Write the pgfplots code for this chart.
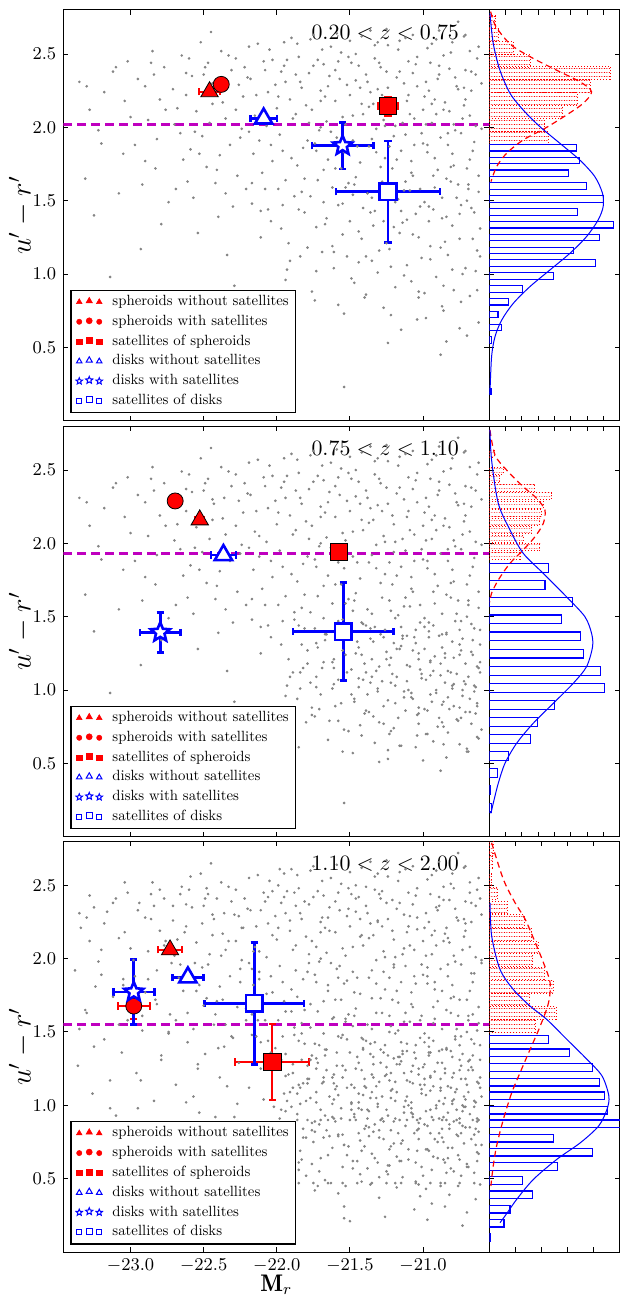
\documentclass[border=0pt]{standalone}
\usepackage{fontspec}
\usepackage{pgfplots}
\usepackage{pgfplotstable}
\pgfplotsset{compat=1.18}
\usetikzlibrary{patterns.meta}
\newfontfamily\lmten{lmroman10-regular}[Extension=.otf]

\definecolor{mred}{rgb}{1,0,0}
\definecolor{mblue}{rgb}{0,0,1}
\definecolor{mmag}{rgb}{0.75,0,0.75}
\definecolor{mgray}{rgb}{0.52,0.52,0.52}

\tikzdeclarepattern{
  name=hdots,
  type=uncolored,
  bounding box={(0pt,0pt) and (2.4pt,2pt)},
  tile size={(2.4pt,2pt)},
  code={
    \draw[line width=0.45pt, dash pattern=on 0.6pt off 0.6pt] (0pt,1pt) -- (2.4pt,1pt);
  }
}

\newdimen\starin
\pgfdeclareplotmark{ostar}{%
  \starin=0.45\pgfplotmarksize
  \pgfpathmoveto{\pgfqpointpolar{90}{\pgfplotmarksize}}%
  \pgfpathlineto{\pgfqpointpolar{126}{\starin}}%
  \pgfpathlineto{\pgfqpointpolar{162}{\pgfplotmarksize}}%
  \pgfpathlineto{\pgfqpointpolar{198}{\starin}}%
  \pgfpathlineto{\pgfqpointpolar{234}{\pgfplotmarksize}}%
  \pgfpathlineto{\pgfqpointpolar{270}{\starin}}%
  \pgfpathlineto{\pgfqpointpolar{306}{\pgfplotmarksize}}%
  \pgfpathlineto{\pgfqpointpolar{342}{\starin}}%
  \pgfpathlineto{\pgfqpointpolar{18}{\pgfplotmarksize}}%
  \pgfpathlineto{\pgfqpointpolar{54}{\starin}}%
  \pgfpathclose
  \pgfusepathqfillstroke
}

% ---------------- gray galaxy clouds ----------------
\pgfplotstableread[row sep=\\]{
x y\\
-23.35 2.31\\ -23.28 2.12\\ -23.22 1.98\\ -23.12 2.38\\ -23.05 1.82\\ -23.31 1.65\\ -23.18 2.24\\ -23.08 1.55\\ -23.02 2.45\\ -23.25 1.40\\ -23.14 0.98\\ -23.04 2.18\\
-22.95 2.33\\ -22.88 2.05\\ -22.82 1.92\\ -22.77 2.41\\ -22.71 2.26\\ -22.64 1.78\\ -22.92 1.61\\ -22.85 2.52\\ -22.68 2.13\\ -22.62 2.37\\ -22.97 1.88\\ -22.74 1.49\\ -22.80 2.19\\ -22.66 1.96\\ -22.90 2.28\\ -22.61 1.63\\ -22.79 1.34\\ -22.86 2.44\\ -22.70 2.02\\ -22.93 1.17\\ -22.65 2.49\\ -22.83 1.72\\
-22.58 2.35\\ -22.55 2.11\\ -22.51 1.94\\ -22.47 2.44\\ -22.43 2.27\\ -22.39 1.81\\ -22.35 2.06\\ -22.31 2.39\\ -22.27 1.67\\ -22.23 2.21\\ -22.57 1.52\\ -22.52 2.58\\ -22.48 1.73\\ -22.44 2.16\\ -22.40 1.39\\ -22.36 2.31\\ -22.32 1.88\\ -22.28 2.47\\ -22.24 1.99\\ -22.21 1.58\\ -22.54 1.28\\ -22.46 2.03\\ -22.38 2.52\\ -22.30 1.46\\ -22.26 2.29\\ -22.50 2.36\\ -22.42 1.62\\ -22.34 1.13\\ -22.22 2.41\\ -22.59 1.85\\ -22.29 0.92\\ -22.45 2.65\\
-22.18 2.33\\ -22.15 2.08\\ -22.12 1.91\\ -22.09 2.45\\ -22.06 2.24\\ -22.03 1.77\\ -22.00 2.13\\ -21.97 2.38\\ -21.94 1.64\\ -21.91 2.19\\ -21.88 1.53\\ -21.85 2.48\\ -21.82 1.86\\ -22.17 1.48\\ -22.13 2.57\\ -22.10 1.69\\ -22.07 2.01\\ -22.04 1.36\\ -22.01 2.29\\ -21.98 1.95\\ -21.95 2.42\\ -21.92 1.21\\ -21.89 2.06\\ -21.86 1.74\\ -21.83 2.27\\ -22.16 1.82\\ -22.11 1.25\\ -22.05 2.53\\ -21.99 1.58\\ -21.93 1.03\\ -21.87 2.36\\ -21.81 1.42\\ -22.14 2.22\\ -22.08 1.58\\ -22.02 0.87\\ -21.96 1.84\\ -21.90 2.61\\ -21.84 1.12\\ -22.19 1.97\\ -21.80 2.15\\ -21.94 2.31\\ -22.06 1.44\\
-21.78 2.37\\ -21.76 2.12\\ -21.74 1.89\\ -21.72 2.46\\ -21.70 2.25\\ -21.68 1.71\\ -21.66 2.04\\ -21.64 2.35\\ -21.62 1.59\\ -21.60 2.18\\ -21.58 1.47\\ -21.56 2.51\\ -21.54 1.83\\ -21.52 2.29\\ -21.50 1.36\\ -21.48 2.08\\ -21.46 1.66\\ -21.44 2.42\\ -21.42 1.24\\ -21.77 1.53\\ -21.75 2.63\\ -21.73 1.32\\ -21.71 1.98\\ -21.69 1.15\\ -21.67 2.21\\ -21.65 1.78\\ -21.63 2.55\\ -21.61 1.04\\ -21.59 1.93\\ -21.57 2.33\\ -21.55 1.27\\ -21.53 2.02\\ -21.51 1.62\\ -21.49 2.44\\ -21.47 0.94\\ -21.45 1.87\\ -21.43 2.27\\ -21.41 1.45\\ -21.79 1.91\\ -21.74 0.82\\ -21.68 2.43\\ -21.62 1.19\\ -21.56 1.72\\ -21.50 2.59\\ -21.44 1.08\\ -21.72 1.64\\ -21.66 1.38\\ -21.60 2.39\\ -21.54 0.73\\ -21.48 1.54\\ -21.42 2.16\\ -21.70 2.00\\ -21.58 1.87\\ -21.46 2.32\\ -21.52 1.12\\ -21.54 0.23\\
-21.39 2.36\\ -21.37 2.14\\ -21.35 1.92\\ -21.33 2.47\\ -21.31 2.26\\ -21.29 1.73\\ -21.27 2.05\\ -21.25 2.38\\ -21.23 1.61\\ -21.21 2.19\\ -21.19 1.49\\ -21.17 2.53\\ -21.15 1.84\\ -21.13 2.30\\ -21.11 1.37\\ -21.09 2.09\\ -21.07 1.67\\ -21.05 2.43\\ -21.03 1.25\\ -21.01 1.96\\ -21.38 1.55\\ -21.36 2.66\\ -21.34 1.33\\ -21.32 1.99\\ -21.30 1.16\\ -21.28 2.22\\ -21.26 1.79\\ -21.24 2.56\\ -21.22 1.05\\ -21.20 1.94\\ -21.18 2.34\\ -21.16 1.28\\ -21.14 2.03\\ -21.12 1.63\\ -21.10 2.45\\ -21.08 0.95\\ -21.06 1.88\\ -21.04 2.28\\ -21.02 1.46\\ -21.00 2.12\\ -21.39 0.86\\ -21.33 1.43\\ -21.27 0.77\\ -21.21 1.72\\ -21.15 0.62\\ -21.09 1.57\\ -21.03 0.88\\ -21.37 1.87\\ -21.31 2.58\\ -21.25 1.21\\ -21.19 2.01\\ -21.13 0.99\\ -21.07 2.37\\ -21.01 1.11\\ -21.35 1.09\\ -21.29 2.41\\ -21.23 1.87\\ -21.17 1.51\\ -21.11 2.18\\ -21.05 1.41\\ -21.36 2.24\\ -21.24 0.53\\ -21.12 2.61\\ -21.20 1.32\\ -21.08 1.77\\
-20.99 2.21\\ -20.97 1.83\\ -20.95 2.44\\ -20.93 1.67\\ -20.91 2.09\\ -20.89 2.36\\ -20.87 1.52\\ -20.85 2.17\\ -20.83 1.96\\ -20.81 2.51\\ -20.79 1.74\\ -20.77 2.28\\ -20.75 1.41\\ -20.73 2.06\\ -20.71 2.39\\ -20.69 1.61\\ -20.67 2.25\\ -20.65 1.90\\ -20.63 2.47\\ -20.61 1.31\\
-20.98 2.02\\ -20.96 1.36\\ -20.94 2.57\\ -20.92 1.79\\ -20.90 2.33\\ -20.88 1.18\\ -20.86 2.12\\ -20.84 1.65\\ -20.82 2.40\\ -20.80 1.03\\ -20.78 1.98\\ -20.76 2.26\\ -20.74 1.47\\ -20.72 2.15\\ -20.70 1.72\\ -20.68 2.52\\ -20.66 1.24\\ -20.64 2.01\\ -20.62 1.56\\ -20.60 2.30\\
-20.99 0.87\\ -20.93 1.44\\ -20.87 0.78\\ -20.81 1.73\\ -20.75 0.63\\ -20.69 1.58\\ -20.63 0.89\\ -20.97 1.88\\ -20.91 2.60\\ -20.85 1.22\\ -20.79 2.02\\ -20.73 1.00\\ -20.67 2.38\\ -20.61 1.12\\ -20.95 1.10\\ -20.89 2.42\\ -20.83 1.88\\ -20.77 1.52\\ -20.71 2.19\\ -20.65 1.42\\ -20.96 2.25\\ -20.84 0.54\\ -20.72 2.62\\ -20.80 1.33\\ -20.68 1.78\\ -20.98 0.70\\ -20.86 0.92\\ -20.74 0.81\\ -20.62 0.67\\ -20.92 1.59\\ -20.76 2.72\\ -20.64 1.02\\ -20.88 0.45\\ -20.70 0.58\\ -20.94 2.16\\
}\cloudA

\pgfplotstableread[row sep=\\]{
x y\\
-21.89 1.12\\ -21.86 0.94\\ -21.83 1.31\\ -21.80 0.78\\ -21.77 1.05\\ -21.74 1.42\\ -21.71 0.87\\ -21.68 1.19\\ -21.65 0.66\\ -21.62 1.01\\ -21.59 1.36\\ -21.56 0.91\\ -21.53 1.24\\ -21.51 0.72\\ -21.88 1.48\\ -21.85 0.61\\ -21.82 1.15\\ -21.79 1.27\\ -21.76 0.83\\ -21.73 1.09\\ -21.70 0.97\\ -21.67 1.38\\ -21.64 0.79\\ -21.61 1.21\\ -21.58 1.07\\ -21.55 0.58\\ -21.52 1.45\\ -21.84 1.01\\ -21.72 1.29\\ -21.60 0.89\\
-21.49 1.14\\ -21.47 0.92\\ -21.45 1.33\\ -21.43 0.76\\ -21.41 1.07\\ -21.39 1.44\\ -21.37 0.85\\ -21.35 1.21\\ -21.33 0.64\\ -21.31 0.99\\ -21.29 1.38\\ -21.27 0.89\\ -21.25 1.26\\ -21.23 0.70\\ -21.21 1.11\\ -21.19 1.03\\ -21.17 0.81\\ -21.15 1.30\\ -21.13 0.95\\ -21.11 1.17\\ -21.48 0.57\\ -21.46 1.25\\ -21.44 1.02\\ -21.42 0.69\\ -21.40 1.18\\ -21.38 0.97\\ -21.36 1.35\\ -21.34 0.82\\ -21.32 1.13\\ -21.30 0.51\\ -21.28 1.06\\ -21.26 1.41\\ -21.24 0.93\\ -21.22 1.22\\ -21.20 0.74\\ -21.18 1.09\\ -21.16 0.62\\ -21.14 1.37\\ -21.12 0.86\\ -21.10 1.00\\ -21.42 1.46\\ -21.30 0.78\\ -21.18 1.28\\ -21.36 1.05\\ -21.24 0.59\\
-21.09 1.16\\ -21.07 0.94\\ -21.05 1.32\\ -21.03 0.77\\ -21.01 1.08\\ -20.99 1.43\\ -20.97 0.86\\ -20.95 1.20\\ -20.93 0.65\\ -20.91 1.00\\ -20.89 1.37\\ -20.87 0.90\\ -20.85 1.25\\ -20.83 0.71\\ -20.81 1.12\\ -20.79 1.04\\ -20.77 0.80\\ -20.75 1.31\\ -20.73 0.96\\ -20.71 1.18\\ -20.69 0.58\\ -20.67 1.26\\ -20.65 1.03\\ -20.63 0.68\\ -20.61 1.19\\ -21.08 0.98\\ -21.06 1.36\\ -21.04 0.83\\ -21.02 1.14\\ -21.00 0.52\\ -20.98 1.07\\ -20.96 1.40\\ -20.94 0.92\\ -20.92 1.23\\ -20.90 0.75\\ -20.88 1.10\\ -20.86 0.63\\ -20.84 1.38\\ -20.82 0.87\\ -20.80 1.01\\ -20.78 1.47\\ -20.76 0.79\\ -20.74 1.27\\ -20.72 1.06\\ -20.70 0.60\\ -20.68 0.94\\ -20.66 1.34\\ -20.64 0.84\\ -20.62 1.15\\ -20.60 0.73\\ -21.05 0.61\\ -20.95 0.97\\ -20.85 1.05\\ -20.75 0.88\\ -20.65 0.99\\ -20.99 1.28\\ -20.89 0.81\\ -20.79 1.22\\ -20.69 1.09\\ -21.03 1.21\\ -20.93 1.13\\ -20.83 0.95\\ -20.73 1.35\\ -20.63 0.91\\ -20.97 0.70\\ -20.87 1.29\\ -20.77 1.11\\ -20.67 0.77\\ -20.61 1.41\\ -20.71 0.85\\
}\cloudB

\pgfplotstableread[row sep=\\]{
x y\\
-23.38 1.92\\ -23.36 1.27\\ -23.34 2.21\\ -23.32 0.84\\ -23.30 1.63\\ -23.28 2.43\\ -23.26 1.08\\ -23.24 1.81\\ -23.22 0.69\\ -23.20 2.06\\ -23.18 1.45\\ -23.16 2.32\\ -23.14 1.17\\ -23.12 1.74\\ -23.10 0.93\\ -23.08 2.14\\ -23.06 1.36\\ -23.04 2.52\\ -23.02 1.58\\ -23.00 0.77\\ -22.98 1.99\\ -22.96 1.22\\ -22.94 2.38\\ -22.92 1.51\\ -22.90 0.61\\ -22.88 1.86\\ -22.86 2.27\\ -22.84 1.03\\ -22.82 1.69\\ -22.80 2.47\\ -23.35 1.52\\ -23.25 2.35\\ -23.15 0.52\\ -23.05 1.86\\ -22.95 0.98\\
-22.79 1.31\\ -22.77 2.09\\ -22.75 0.88\\ -22.73 1.62\\ -22.71 2.36\\ -22.69 1.14\\ -22.67 1.87\\ -22.65 0.72\\ -22.63 2.18\\ -22.61 1.43\\ -22.59 2.56\\ -22.57 1.06\\ -22.55 1.78\\ -22.53 0.95\\ -22.51 2.24\\ -22.49 1.35\\ -22.47 1.96\\ -22.45 0.66\\ -22.43 1.55\\ -22.41 2.41\\ -22.39 1.19\\ -22.37 1.72\\ -22.35 0.83\\ -22.33 2.12\\ -22.31 1.47\\ -22.29 2.30\\ -22.27 1.01\\ -22.25 1.84\\ -22.23 0.58\\ -22.21 1.66\\ -22.78 0.49\\ -22.72 1.97\\ -22.66 2.44\\ -22.60 0.81\\ -22.54 1.25\\ -22.48 2.48\\ -22.42 0.92\\ -22.36 1.40\\ -22.30 0.71\\ -22.24 2.21\\ -22.74 1.50\\ -22.62 1.02\\ -22.50 1.68\\ -22.38 2.02\\ -22.26 1.29\\
-22.19 1.12\\ -22.17 1.93\\ -22.15 0.79\\ -22.13 1.58\\ -22.11 2.33\\ -22.09 1.04\\ -22.07 1.76\\ -22.05 0.63\\ -22.03 2.16\\ -22.01 1.39\\ -21.99 2.50\\ -21.97 0.97\\ -21.95 1.71\\ -21.93 0.86\\ -21.91 2.26\\ -21.89 1.28\\ -21.87 1.92\\ -21.85 0.56\\ -21.83 1.49\\ -21.81 2.39\\ -21.79 1.15\\ -21.77 1.69\\ -21.75 0.75\\ -21.73 2.08\\ -21.71 1.41\\ -21.69 2.28\\ -21.67 0.93\\ -21.65 1.82\\ -21.63 0.47\\ -21.61 1.60\\ -22.18 0.41\\ -22.12 1.86\\ -22.06 2.42\\ -22.00 0.73\\ -21.94 1.20\\ -21.88 2.45\\ -21.82 0.84\\ -21.76 1.34\\ -21.70 0.64\\ -21.64 2.19\\ -22.14 1.47\\ -22.02 0.99\\ -21.90 1.64\\ -21.78 1.97\\ -21.66 1.24\\ -22.16 2.05\\ -22.04 0.88\\ -21.92 0.35\\ -21.80 0.52\\ -21.68 0.78\\ -22.10 0.55\\ -21.98 2.61\\ -21.86 1.08\\ -21.74 0.42\\ -21.62 0.92\\
-21.59 1.13\\ -21.57 1.95\\ -21.55 0.80\\ -21.53 1.57\\ -21.51 2.34\\ -21.49 1.02\\ -21.47 1.77\\ -21.45 0.62\\ -21.43 2.15\\ -21.41 1.38\\ -21.39 2.49\\ -21.37 0.96\\ -21.35 1.73\\ -21.33 0.87\\ -21.31 2.25\\ -21.29 1.29\\ -21.27 1.91\\ -21.25 0.55\\ -21.23 1.50\\ -21.21 2.40\\ -21.19 1.16\\ -21.17 1.70\\ -21.15 0.74\\ -21.13 2.07\\ -21.11 1.42\\ -21.09 2.29\\ -21.07 0.92\\ -21.05 1.83\\ -21.03 0.46\\ -21.01 1.61\\ -21.58 0.40\\ -21.52 1.85\\ -21.46 2.41\\ -21.40 0.72\\ -21.34 1.19\\ -21.28 2.46\\ -21.22 0.83\\ -21.16 1.33\\ -21.10 0.63\\ -21.04 2.20\\ -21.56 1.46\\ -21.44 0.98\\ -21.32 1.63\\ -21.20 1.96\\ -21.08 1.23\\ -21.54 0.31\\ -21.42 0.48\\ -21.30 0.37\\ -21.18 0.44\\ -21.06 0.29\\ -21.50 0.21\\ -21.38 0.57\\ -21.26 0.24\\ -21.14 0.51\\ -21.02 0.38\\
-20.99 1.14\\ -20.97 1.94\\ -20.95 0.81\\ -20.93 1.56\\ -20.91 2.35\\ -20.89 1.03\\ -20.87 1.78\\ -20.85 0.61\\ -20.83 2.14\\ -20.81 1.37\\ -20.79 2.48\\ -20.77 0.97\\ -20.75 1.72\\ -20.73 0.86\\ -20.71 2.24\\ -20.69 1.30\\ -20.67 1.90\\ -20.65 0.54\\ -20.63 1.51\\ -20.61 2.41\\ -20.98 0.43\\ -20.92 1.84\\ -20.86 2.40\\ -20.80 0.71\\ -20.74 1.18\\ -20.68 2.45\\ -20.62 0.82\\ -20.96 1.34\\ -20.90 0.64\\ -20.84 2.21\\ -20.78 1.45\\ -20.72 0.99\\ -20.66 1.62\\ -20.60 1.97\\ -20.94 0.33\\ -20.88 0.47\\ -20.82 0.39\\ -20.76 0.45\\ -20.70 0.27\\ -20.64 0.36\\ -20.97 0.22\\ -20.85 0.31\\ -20.73 0.18\\ -20.61 0.46\\ -20.79 0.55\\
}\cloudC

\pgfplotstableread[row sep=\\]{
x y\\
-21.98 0.91\\ -21.95 1.08\\ -21.92 0.74\\ -21.89 1.22\\ -21.86 0.90\\ -21.83 0.63\\ -21.80 1.03\\ -21.77 1.31\\ -21.74 0.89\\ -21.71 0.55\\ -21.68 1.16\\ -21.65 0.90\\ -21.62 0.71\\ -21.59 1.27\\ -21.56 0.98\\ -21.53 0.45\\ -21.50 0.90\\ -21.47 1.12\\ -21.44 0.81\\ -21.41 1.39\\ -21.38 0.91\\ -21.35 0.67\\ -21.32 1.05\\ -21.29 0.90\\ -21.26 1.20\\ -21.23 0.59\\ -21.20 0.89\\ -21.17 1.33\\ -21.14 0.76\\ -21.11 0.90\\ -21.08 1.02\\ -21.05 0.48\\ -21.02 0.91\\ -20.99 1.18\\ -20.96 0.69\\ -20.93 0.90\\ -20.90 1.29\\ -20.87 0.84\\ -20.84 0.90\\ -20.81 0.57\\ -20.78 1.09\\ -20.75 0.91\\ -20.72 0.74\\ -20.69 1.24\\ -20.66 0.90\\ -20.63 0.62\\ -20.60 1.06\\
-21.97 0.52\\ -21.94 1.35\\ -21.91 0.86\\ -21.88 0.47\\ -21.85 1.14\\ -21.82 0.78\\ -21.79 0.90\\ -21.76 0.60\\ -21.73 1.25\\ -21.70 0.90\\ -21.67 0.49\\ -21.64 1.06\\ -21.61 0.91\\ -21.58 0.80\\ -21.55 1.19\\ -21.52 0.66\\ -21.49 1.01\\ -21.46 0.90\\ -21.43 0.53\\ -21.40 1.13\\ -21.37 0.79\\ -21.34 1.28\\ -21.31 0.61\\ -21.28 0.91\\ -21.25 0.97\\ -21.22 1.10\\ -21.19 0.47\\ -21.16 0.90\\ -21.13 1.22\\ -21.10 0.70\\ -21.07 1.15\\ -21.04 0.90\\ -21.01 0.58\\ -20.98 0.96\\ -20.95 1.36\\ -20.92 0.77\\ -20.89 0.91\\ -20.86 1.01\\ -20.83 0.64\\ -20.80 1.19\\ -20.77 0.90\\ -20.74 0.52\\ -20.71 0.99\\ -20.68 1.31\\ -20.65 0.80\\ -20.62 0.90\\
-21.90 0.99\\ -21.84 0.69\\ -21.78 1.18\\ -21.72 0.45\\ -21.66 0.83\\ -21.60 1.11\\ -21.54 0.73\\ -21.48 0.62\\ -21.42 0.97\\ -21.36 0.46\\ -21.30 0.83\\ -21.24 1.34\\ -21.18 0.65\\ -21.12 1.03\\ -21.06 0.81\\ -21.00 1.26\\ -20.94 0.56\\ -20.88 1.12\\ -20.82 0.84\\ -20.76 0.66\\ -20.70 1.14\\ -20.64 0.73\\
-21.85 0.47\\ -21.75 0.47\\ -21.65 0.47\\ -21.55 0.47\\ -21.45 0.47\\ -21.35 0.47\\ -21.25 0.47\\ -21.15 0.47\\ -21.05 0.47\\ -20.95 0.47\\ -20.85 0.47\\ -20.75 0.47\\ -20.65 0.47\\
}\cloudD

\pgfplotstableread[row sep=\\]{
x y\\
-22.62 2.22\\ -22.56 1.97\\ -22.49 2.41\\ -22.41 1.71\\ -22.37 2.17\\ -22.33 2.49\\ -22.25 1.93\\ -22.20 2.34\\ -22.17 1.62\\ -22.12 2.05\\ -22.08 2.39\\ -22.04 1.88\\ -21.99 2.21\\ -21.96 1.47\\ -21.93 2.46\\ -21.90 1.79\\ -21.87 2.09\\ -21.84 2.31\\ -21.81 1.65\\ -21.78 2.03\\ -21.75 2.42\\ -21.73 1.84\\ -21.70 2.18\\ -21.68 1.49\\ -21.65 2.28\\ -21.63 1.97\\ -21.60 1.72\\ -21.58 2.45\\ -21.55 2.07\\ -21.53 1.59\\ -21.50 2.22\\ -21.48 1.91\\ -21.46 2.50\\ -21.43 1.76\\ -21.41 2.09\\ -21.38 2.31\\ -21.36 1.42\\ -21.34 2.16\\ -21.32 1.83\\ -21.30 2.44\\ -21.28 1.63\\ -21.26 2.01\\ -21.24 2.27\\ -21.22 1.54\\ -21.20 2.13\\ -21.18 1.78\\ -21.16 2.38\\ -21.14 1.35\\ -21.12 1.95\\ -21.10 2.22\\ -21.08 1.69\\ -21.06 2.06\\ -21.04 2.48\\ -21.02 1.58\\ -21.00 1.89\\ -20.98 2.31\\ -20.96 1.46\\ -20.94 2.03\\ -20.92 2.19\\ -20.90 1.71\\ -20.88 1.93\\ -20.86 2.49\\ -20.84 1.39\\ -20.82 2.11\\ -20.80 1.82\\ -20.78 2.34\\ -20.76 1.61\\ -20.74 1.96\\ -20.72 2.27\\ -20.70 1.50\\ -20.68 2.08\\ -20.66 1.84\\ -20.64 2.36\\ -20.62 1.67\\ -20.60 1.99\\
-21.97 1.31\\ -21.91 1.09\\ -21.85 1.44\\ -21.79 1.18\\ -21.73 1.02\\ -21.67 1.34\\ -21.61 1.15\\ -21.55 1.48\\ -21.49 0.97\\ -21.44 1.29\\ -21.39 1.12\\ -21.35 1.52\\ -21.31 1.01\\ -21.27 1.36\\ -21.23 1.17\\ -21.19 0.91\\ -21.15 1.43\\ -21.11 1.06\\ -21.07 1.27\\ -21.03 0.84\\ -20.99 1.49\\ -20.95 1.19\\ -20.91 0.98\\ -20.87 1.38\\ -20.83 1.13\\ -20.79 0.89\\ -20.75 1.24\\ -20.71 1.04\\ -20.67 1.45\\ -20.63 1.16\\ -21.94 0.96\\ -21.76 0.88\\ -21.58 0.79\\ -21.40 0.84\\ -21.22 0.72\\ -21.04 0.69\\ -20.86 0.75\\ -20.68 0.85\\ -21.83 1.56\\ -21.47 1.61\\ -21.13 1.57\\ -20.81 1.63\\
-23.30 2.28\\ -23.20 1.89\\ -23.10 2.41\\ -23.00 2.07\\ -22.90 1.77\\ -22.84 2.36\\ -22.76 2.12\\ -22.69 1.58\\ -22.60 2.47\\ -22.53 1.82\\ -22.44 2.30\\ -22.35 1.55\\ -22.28 2.12\\ -22.19 2.55\\ -22.11 1.43\\ -22.03 2.46\\ -21.95 2.58\\ -21.86 2.57\\ -21.77 2.60\\ -21.69 2.53\\ -21.59 2.64\\ -21.51 2.48\\ -21.42 2.62\\ -21.33 2.56\\ -21.25 2.67\\ -21.16 2.59\\ -21.07 2.63\\ -20.97 2.54\\ -20.89 2.66\\ -20.80 2.58\\ -20.71 2.63\\ -20.62 2.55\\
}\cloudE

% ---------------- styles ----------------
\pgfplotsset{
  scat/.style={
    scale only axis, width=213pt, height=205.35pt,
    xmin=-23.46, xmax=-20.547, ymin=0, ymax=2.8,
    xtick={-23,-22.5,-22,-21.5,-21},
    ytick={0.5,1,1.5,2,2.5},
    tick align=inside, major tick length=2.5pt,
    axis line style={line width=0.5pt},
    every tick/.style={black, line width=0.5pt},
    tick label style={font=\fontsize{9}{10}\selectfont},
    yticklabel style={/pgf/number format/.cd, fixed, fixed zerofill, precision=1},
    xticklabel style={/pgf/number format/.cd, fixed, fixed zerofill, precision=1},
    ylabel={$u'-r'$},
    ylabel style={font=\fontsize{14.4}{16}\selectfont, at={(axis description cs:-0.0993,0.5)}, anchor=center},
    legend style={at={(0.0167,0.0178)}, anchor=south west, draw=black, line width=0.6pt, fill=white,
      font=\lmten\fontsize{7.4}{8.5}\selectfont, inner xsep=2.5pt, inner ysep=1.5pt, row sep=1.1pt,
      nodes={inner sep=1pt, text height=5.2pt, text depth=1.6pt},
      /tikz/every odd column/.append style={column sep=4pt}},
    legend cell align=left,
  },
  hist/.style={
    scale only axis, width=65.25pt, height=205.35pt,
    xmin=0, ymin=0, ymax=2.8,
    ytick={0.5,1,1.5,2,2.5}, yticklabels={}, xticklabels={},
    tick align=inside, major tick length=2.5pt,
    axis line style={line width=0.5pt},
    every tick/.style={black, line width=0.5pt},
  },
  cloud/.style={only marks, mark=*, mark size=0.45pt, color=mgray, mark options={draw=none, fill=mgray}, forget plot},
  cut/.style={mmag, line width=1.3pt, dash pattern=on 4.5pt off 2.5pt, forget plot},
  bbar/.style={xbar, draw=mblue, fill=none, line width=0.6pt, forget plot},
  rbar/.style={xbar, draw=mred, densely dotted, line width=0.5pt, pattern=hdots, pattern color=mred, forget plot},
  bcurve/.style={mblue, line width=0.5pt, smooth, tension=0.5, forget plot},
  rcurve/.style={mred, line width=0.6pt, dash pattern=on 3pt off 2pt, smooth, tension=0.5, forget plot},
  rtri/.style={only marks, mark=triangle*, mark size=5pt, mark options={fill=mred, draw=black, line width=0.4pt},
    legend image code/.code={
      \draw plot[only marks, mark=triangle*, mark size=1.6pt, mark options={fill=mred, draw=mred, line width=0.3pt, solid}] coordinates {(0pt,0pt) (10pt,0pt)};
      \draw plot[only marks, mark=triangle*, mark size=1.8pt, mark options={fill=mred, draw=mred, line width=0.3pt, solid}] coordinates {(5pt,0.5pt)};}},
  rcirc/.style={only marks, mark=*, mark size=4pt, mark options={fill=mred, draw=black, line width=0.4pt},
    legend image code/.code={
      \draw plot[only marks, mark=*, mark size=1.3pt, mark options={fill=mred, draw=mred, line width=0.3pt, solid}] coordinates {(0pt,0pt) (10pt,0pt)};
      \draw plot[only marks, mark=*, mark size=1.5pt, mark options={fill=mred, draw=mred, line width=0.3pt, solid}] coordinates {(5pt,0.5pt)};}},
  rsq/.style={only marks, mark=square*, mark size=4.3pt, mark options={fill=mred, draw=black, line width=0.4pt},
    legend image code/.code={
      \draw plot[only marks, mark=square*, mark size=1.3pt, mark options={fill=mred, draw=mred, line width=0.3pt, solid}] coordinates {(0pt,0pt) (10pt,0pt)};
      \draw plot[only marks, mark=square*, mark size=1.5pt, mark options={fill=mred, draw=mred, line width=0.3pt, solid}] coordinates {(5pt,0.5pt)};}},
  btri/.style={only marks, mark=triangle*, mark size=5pt, mark options={fill=white, draw=mblue, line width=1.3pt},
    legend image code/.code={
      \draw plot[only marks, mark=triangle*, mark size=1.6pt, mark options={fill=white, draw=mblue, line width=0.5pt, solid}] coordinates {(0pt,0pt) (10pt,0pt)};
      \draw plot[only marks, mark=triangle*, mark size=1.8pt, mark options={fill=white, draw=mblue, line width=0.5pt, solid}] coordinates {(5pt,0.5pt)};}},
  bstar/.style={only marks, mark=ostar, mark size=5pt, mark options={fill=white, draw=mblue, line width=1.3pt},
    legend image code/.code={
      \draw plot[only marks, mark=ostar, mark size=1.7pt, mark options={fill=white, draw=mblue, line width=0.5pt, solid}] coordinates {(0pt,0pt) (10pt,0pt)};
      \draw plot[only marks, mark=ostar, mark size=1.9pt, mark options={fill=white, draw=mblue, line width=0.5pt, solid}] coordinates {(5pt,0.5pt)};}},
  bsq/.style={only marks, mark=square*, mark size=4.2pt, mark options={fill=white, draw=mblue, line width=1.3pt},
    legend image code/.code={
      \draw plot[only marks, mark=square*, mark size=1.3pt, mark options={fill=white, draw=mblue, line width=0.5pt, solid}] coordinates {(0pt,0pt) (10pt,0pt)};
      \draw plot[only marks, mark=square*, mark size=1.5pt, mark options={fill=white, draw=mblue, line width=0.5pt, solid}] coordinates {(5pt,0.5pt)};}},
  ebr/.style={error bars/.cd, x dir=both, x explicit, y dir=both, y explicit,
    error bar style={mred, line width=1pt, solid}, error mark options={rotate=90, mred, mark size=1.8pt, line width=1pt}},
  ebb/.style={error bars/.cd, x dir=both, x explicit, y dir=both, y explicit,
    error bar style={mblue, line width=1.3pt, solid}, error mark options={rotate=90, mblue, mark size=1.8pt, line width=1.3pt}},
}

\begin{document}
\begin{tikzpicture}

% ================= TOP: 0.20 < z < 0.75 =================
\begin{axis}[scat, at={(0pt,415.65pt)}, anchor=south west, xticklabels={}]
\addplot[cloud] table[x=x,y=y] {\cloudA};
\addplot[cloud] table[x=x,y=y] {\cloudE};
\addplot[cut] coordinates {(-23.46,2.02) (-20.547,2.02)};
\addplot[rtri, ebr] coordinates {(-22.46,2.243) +- (0.07,0.02)};
\addlegendentry{spheroids without satellites}
\addplot[rcirc, ebr] coordinates {(-22.38,2.293) +- (0.0,0.0)};
\addlegendentry{spheroids with satellites}
\addplot[rsq, ebr] coordinates {(-21.24,2.145) +- (0.07,0.065)};
\addlegendentry{satellites of spheroids}
\addplot[btri, ebb] coordinates {(-22.09,2.06) +- (0.09,0.0)};
\addlegendentry{disks without satellites}
\addplot[bstar, ebb] coordinates {(-21.55,1.875) +- (0.21,0.158)};
\addlegendentry{disks with satellites}
\addplot[bsq, ebb] coordinates {(-21.24,1.561) +- (0.355,0.345)};
\addlegendentry{satellites of disks}
\node[anchor=east, font=\fontsize{10.9}{12}\selectfont, xshift=-11.65pt, yshift=-11.5pt] at (rel axis cs:1,1) {$0.20<z<0.75$};
\end{axis}

\begin{axis}[hist, at={(213pt,415.65pt)}, anchor=south west, xmax=8, xtick={0,1,...,8}]
\addplot[rbar, bar width=0.0875] coordinates {(3.6,1.930) (3.4,2.018) (4.5,2.105) (5.4,2.193) (6.2,2.280) (7.4,2.368) (2.5,2.455) (1.5,2.543) (0.55,2.630) (0.35,2.718)};
\addplot[bbar, bar width=0.045] coordinates {(5.33,1.861) (5.51,1.774) (4.86,1.686) (5.96,1.599) (6.98,1.511) (5.41,1.424) (7.59,1.336) (6.78,1.249) (5.18,1.161) (6.51,1.074) (3.92,0.986) (2.04,0.899) (1.20,0.811) (0.53,0.724) (0.73,0.636) (0.14,0.549) (0.10,0.199)};
\addplot[rcurve] coordinates {(0.08,2.789) (0.35,2.698) (0.86,2.618) (1.47,2.55) (2.69,2.47) (4.12,2.39) (5.55,2.311) (6.27,2.243) (5.76,2.164) (4.73,2.084) (3.41,1.993) (2.08,1.914) (1.06,1.823) (0.45,1.732) (0.1,1.63)};
\addplot[bcurve] coordinates {(0.04,2.777) (0.24,2.573) (0.65,2.39) (1.27,2.232) (2.08,2.118) (3.1,2.005) (4.33,1.891) (5.55,1.777) (6.47,1.664) (6.94,1.55) (6.98,1.459) (6.67,1.368) (5.96,1.255) (4.94,1.141) (3.71,1.027) (2.49,0.914) (1.47,0.8) (0.76,0.686) (0.35,0.573) (0.14,0.436) (0.04,0.186)};
\end{axis}

% ================= MIDDLE: 0.75 < z < 1.10 =================
\begin{axis}[scat, at={(0pt,207.65pt)}, anchor=south west, xticklabels={}]
\addplot[cloud] table[x=x,y=y] {\cloudA};
\addplot[cloud] table[x=x,y=y] {\cloudB};
\addplot[cloud] table[x=x,y=y] {\cloudE};
\addplot[cut] coordinates {(-23.46,1.932) (-20.547,1.932)};
\addplot[rtri, ebr] coordinates {(-22.527,2.16) +- (0.03,0.02)};
\addlegendentry{spheroids without satellites}
\addplot[rcirc, ebr] coordinates {(-22.695,2.289) +- (0.0,0.0)};
\addlegendentry{spheroids with satellites}
\addplot[rsq, ebr] coordinates {(-21.573,1.943) +- (0.03,0.03)};
\addlegendentry{satellites of spheroids}
\addplot[btri, ebb] coordinates {(-22.365,1.92) +- (0.085,0.0)};
\addlegendentry{disks without satellites}
\addplot[bstar, ebb] coordinates {(-22.797,1.393) +- (0.138,0.136)};
\addlegendentry{disks with satellites}
\addplot[bsq, ebb] coordinates {(-21.546,1.398) +- (0.343,0.335)};
\addlegendentry{satellites of disks}
\node[anchor=east, font=\fontsize{10.9}{12}\selectfont, xshift=-11.65pt, yshift=-11.5pt] at (rel axis cs:1,1) {$0.75<z<1.10$};
\end{axis}

\begin{axis}[hist, at={(213pt,207.65pt)}, anchor=south west, xmax=8, xtick={0,1,...,8}]
\addplot[rbar, bar width=0.05] coordinates {(1.9,1.915) (3.1,1.973) (2.1,2.031) (2.6,2.089) (3.1,2.147) (3.2,2.205) (3.3,2.263) (3.8,2.321) (2.8,2.379) (0.65,2.437) (0.86,2.495) (0.3,2.611)};
\addplot[bbar, bar width=0.06] coordinates {(3.61,1.833) (3.41,1.716) (5.08,1.599) (4.45,1.482) (5.59,1.366) (5.78,1.248) (6.80,1.130) (7.04,1.014) (4.02,0.898) (2.94,0.783) (2.53,0.665) (1.16,0.550) (0.49,0.436) (0.08,0.315) (0.14,0.199)};
\addplot[rcurve] coordinates {(0.04,2.773) (0.35,2.602) (1.06,2.5) (2.08,2.386) (2.9,2.307) (3.41,2.227) (3.31,2.136) (2.8,2.045) (2.08,1.955) (1.27,1.864) (0.55,1.75) (0.14,1.66) (0.04,1.6)};
\addplot[bcurve] coordinates {(0.04,2.773) (0.14,2.568) (0.55,2.273) (1.27,2.091) (2.08,1.932) (3.31,1.795) (4.73,1.636) (5.86,1.5) (6.27,1.386) (6.33,1.295) (5.96,1.159) (5.14,1.045) (3.92,0.909) (2.69,0.773) (1.67,0.636) (0.96,0.5) (0.55,0.364) (0.24,0.227) (0.1,0.159)};
\end{axis}

% ================= BOTTOM: 1.10 < z < 2.00 =================
\begin{axis}[scat, at={(0pt,0pt)}, anchor=south west,
  xlabel={$\mathbf{M}_r$},
  xlabel style={font=\fontsize{12}{14}\selectfont, at={(axis description cs:0.5,-0.0795)}, anchor=center}]
\addplot[cloud] table[x=x,y=y] {\cloudA};
\addplot[cloud] table[x=x,y=y] {\cloudB};
\addplot[cloud] table[x=x,y=y] {\cloudC};
\addplot[cloud] table[x=x,y=y] {\cloudD};
\addplot[cloud] table[x=x,y=y] {\cloudE};
\addplot[cut] coordinates {(-23.46,1.552) (-20.547,1.552)};
\addplot[rtri, ebr] coordinates {(-22.73,2.06) +- (0.08,0.02)};
\addlegendentry{spheroids without satellites}
\addplot[rcirc, ebr] coordinates {(-22.978,1.677) +- (0.11,0.09)};
\addlegendentry{spheroids with satellites}
\addplot[rsq, ebr] coordinates {(-22.03,1.295) +- (0.253,0.258)};
\addlegendentry{satellites of spheroids}
\addplot[btri, ebb] coordinates {(-22.608,1.872) +- (0.105,0.0)};
\addlegendentry{disks without satellites}
\addplot[bstar, ebb] coordinates {(-22.978,1.773) +- (0.14,0.22)};
\addlegendentry{disks with satellites}
\addplot[bsq, ebb] coordinates {(-22.154,1.695) +- (0.34,0.415)};
\addlegendentry{satellites of disks}
\node[anchor=east, font=\fontsize{10.9}{12}\selectfont, xshift=-11.65pt, yshift=-11.5pt] at (rel axis cs:1,1) {$1.10<z<2.00$};
\end{axis}

\begin{axis}[hist, at={(213pt,0pt)}, anchor=south west, xmax=5, xtick={0,1,...,5}]
\addplot[rbar, bar width=0.085] coordinates {(1.76,1.541) (2.56,1.630) (1.54,1.720) (2.46,1.808) (2.10,1.900) (1.67,1.990) (1.88,2.075) (1.63,2.166) (1.33,2.257) (0.69,2.350) (0.31,2.445) (0.10,2.535) (0.13,2.660) (0.15,2.760)};
\addplot[bbar, bar width=0.053] coordinates {(2.28,1.450) (3.08,1.357) (3.94,1.258) (4.22,1.158) (4.41,1.064) (4.53,0.968) (5.50,0.873) (2.46,0.776) (3.95,0.681) (2.62,0.583) (1.26,0.486) (1.65,0.390) (0.79,0.292) (0.56,0.197) (0.04,0.098)};
\addplot[rcurve] coordinates {(0.09,2.79) (0.54,2.54) (0.99,2.38) (1.37,2.27) (1.76,2.11) (2.08,1.97) (2.33,1.836) (2.27,1.7) (1.95,1.54) (1.56,1.38) (1.18,1.223) (0.86,1.086) (0.54,0.905) (0.28,0.723) (0.15,0.586) (0.06,0.45)};
\addplot[bcurve] coordinates {(0.03,2.38) (0.09,2.155) (0.41,1.927) (0.92,1.79) (1.56,1.677) (2.2,1.586) (2.97,1.45) (3.74,1.314) (4.32,1.2) (4.58,1.064) (4.51,0.973) (4.19,0.859) (3.49,0.745) (2.59,0.632) (1.69,0.495) (1.05,0.359) (0.6,0.245) (0.41,0.2)};
\end{axis}

\pgfresetboundingbox
\path[use as bounding box] (-31.65pt,-23pt) rectangle (278.5pt,626pt);
\end{tikzpicture}
\end{document}
